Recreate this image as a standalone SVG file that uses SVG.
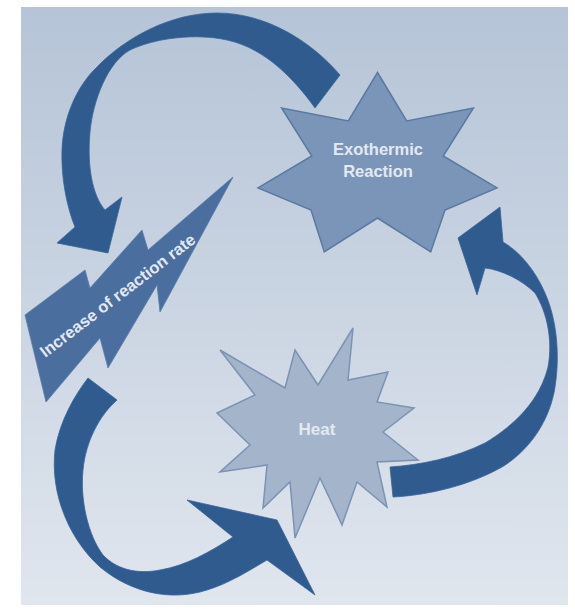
<svg xmlns="http://www.w3.org/2000/svg" width="575" height="609" viewBox="0 0 575 609">
  <defs>
    <linearGradient id="bg" x1="0" y1="0" x2="0" y2="1">
      <stop offset="0" stop-color="#b5c4d7"/>
      <stop offset="1" stop-color="#e0e6ee"/>
    </linearGradient>
    <style>
      .arrow { fill: #2f5b8f; stroke: #3a6598; stroke-width: 0.8; stroke-linejoin: miter; }
      .bolt { fill: #4a6f9e; stroke: #5a7ca8; stroke-width: 0.8; }
      .star7 { fill: #7b95b8; stroke: #5a79a2; stroke-width: 1.5; stroke-linejoin: miter; }
      .seal { fill: #a4b5cb; stroke: #7b93b3; stroke-width: 1.5; stroke-linejoin: miter; }
      .label { font-family: "Liberation Sans", Arial, sans-serif; font-weight: bold; fill: #e3e9f1; text-anchor: middle; }
    </style>
  </defs>

  <rect x="0" y="0" width="575" height="609" fill="#ffffff"/>
  <rect x="21" y="7" width="547" height="598" fill="url(#bg)"/>

  <g id="connectors">
    <!-- Exothermic Reaction -> Increase of reaction rate -->
    <path id="arrow-top" class="arrow" d="M108,253 L57,243 L75,227 C66,205 61,175 62,150 C63,120 75,88 97,67 C125,38 170,13 217,13 C265,13 310,40 340,75 L315,108 C295,80 265,48 227,40 C195,33 155,38 130,50 C108,62 93,100 90,132 C87,165 92,195 105,210 L122,197 Z"/>
    <!-- Increase of reaction rate -> Heat -->
    <path id="arrow-bottom" class="arrow" d="M88,378 C75,395 60,420 55,450 C50,495 70,540 100,567 C130,592 170,602 207,590 C230,583 250,570 267,560 L315,595 L277,520 L187,500 L233,537 C210,552 185,566 160,570 C135,575 115,568 103,555 C88,535 80,500 83,470 C86,440 100,415 117,400 Z"/>
    <!-- Heat -> Exothermic Reaction -->
    <path id="arrow-right" class="arrow" d="M390,467 C420,465 455,458 485,443 C515,425 540,400 548,367 C553,340 547,312 535,293 C522,280 502,270 485,268 L477,295 L458,238 L500,207 L503,242 C520,252 535,270 545,293 C557,320 560,355 555,387 C550,420 530,450 502,467 C470,485 430,495 393,497 Z"/>
  </g>

  <g id="node-rate">
    <polygon class="bolt" points="46,402 25,315 85,270 90,288 142,230 148,250 233,177 160,312 157,285 108,368 100,338"/>
    <text class="label" font-size="16.5" transform="translate(121,300) rotate(-37.5)" x="0" y="0">Increase of reaction rate</text>
  </g>

  <g id="node-exothermic">
    <polygon class="star7" points="377.5,72.5 406.7,121 473.4,108 443.2,156 497,187.9 445,210 430.7,251.9 377.5,218 324.3,251.9 311,210 258,187.9 311.8,156 281.6,108 348.3,121"/>
    <text class="label" font-size="16.5" x="378" y="155">Exothermic</text>
    <text class="label" font-size="16.5" x="378" y="177">Reaction</text>
  </g>

  <g id="node-heat">
    <polygon class="seal" points="220,350 285,388 295,350 318,385 353,328 348,380 388,372 377,402 414,408 383,432 418,460 377,462 387,507 357,482 342,525 320,478 295,538 290,482 263,508 267,465 220,472 250,445 217,413 255,395"/>
    <text class="label" font-size="17" x="317" y="435">Heat</text>
  </g>
</svg>
